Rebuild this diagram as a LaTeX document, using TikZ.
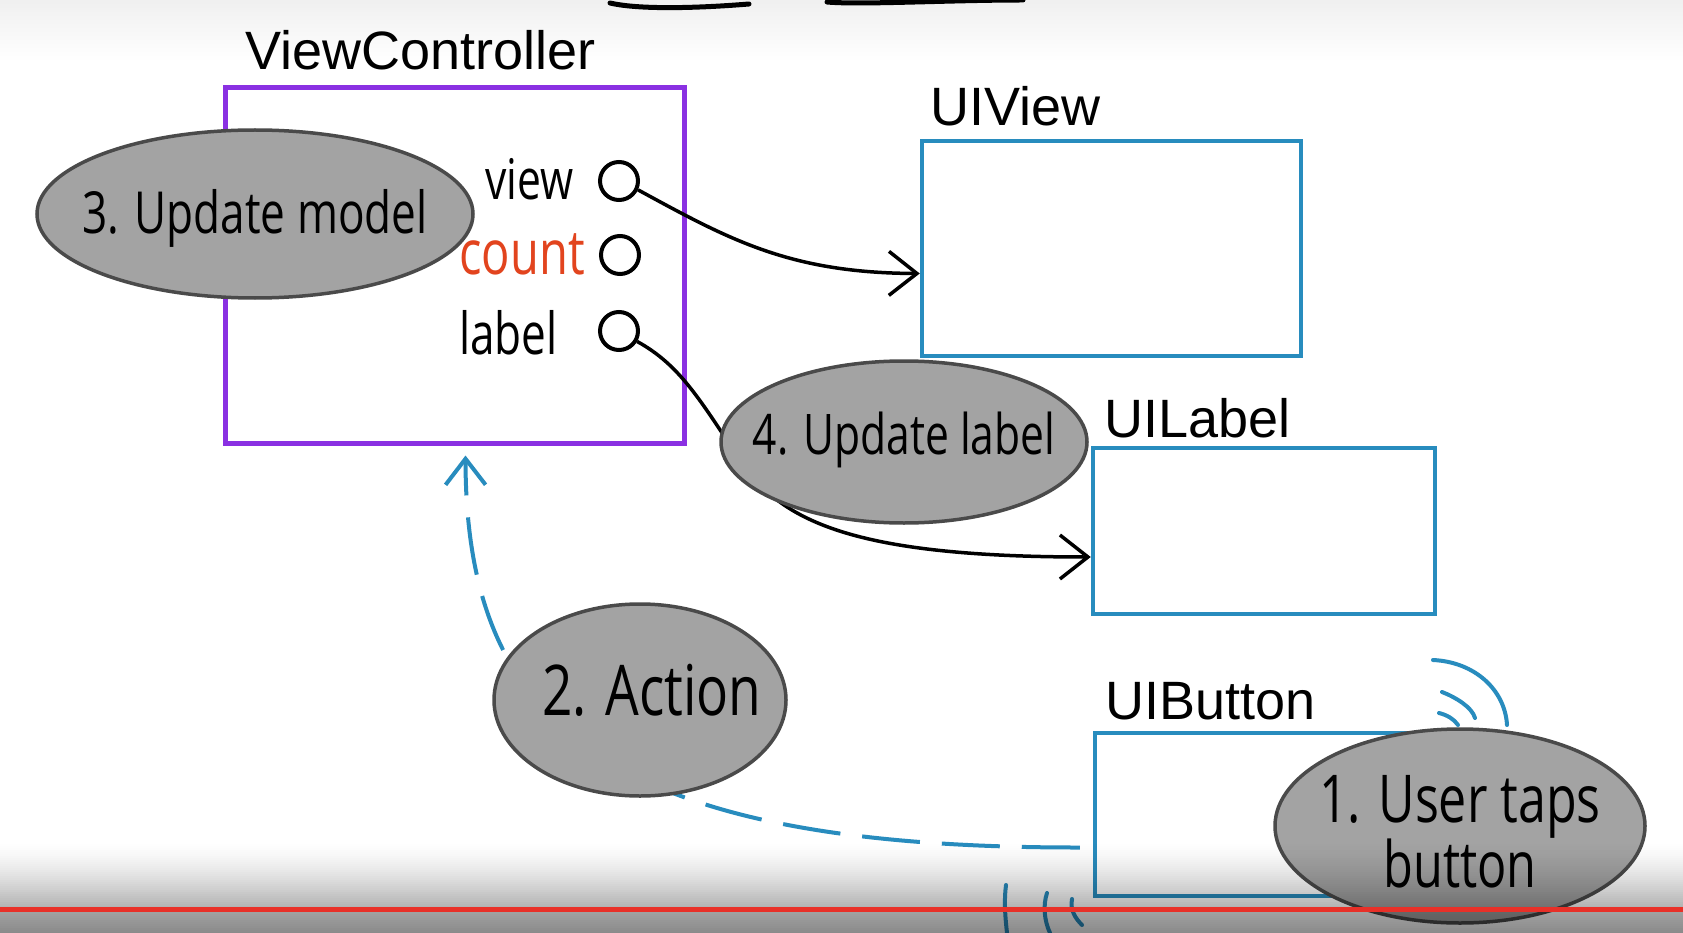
\documentclass[tikz,border=0pt]{standalone}
\usepackage{fontspec}
\setmainfont{Liberation Sans}
\newfontfamily\hwfont{Open Sans}
\usetikzlibrary{shapes.geometric,arrows.meta,calc}
\definecolor{vcpurple}{RGB}{138,48,226}
\definecolor{uiblue}{RGB}{40,140,190}
\definecolor{hwred}{RGB}{226,68,30}
\definecolor{ovalgray}{RGB}{163,163,163}
\definecolor{ovaledge}{RGB}{74,74,74}
\definecolor{ytred}{RGB}{232,48,40}
\newcommand\hw[2]{\scalebox{0.76}[1]{\hwfont\fontsize{#1}{#1}\selectfont #2}}
\begin{document}
\begin{tikzpicture}[x=1pt,y=-1pt,
  vcbox/.style={draw=vcpurple, line width=5pt, inner sep=0pt},
  uibox/.style={draw=uiblue, line width=4.5pt, inner sep=0pt},
  title/.style={anchor=base west, inner sep=0pt, font=\fontsize{54}{60}\selectfont},
  outlet/.style={circle, draw=black, line width=4pt, minimum size=38pt, inner sep=0pt},
  oval/.style={ellipse, fill=ovalgray, draw=ovaledge, line width=3.5pt, inner sep=0pt},
  hwlabel/.style={anchor=base east, inner sep=0pt},
  wire/.style={line width=3.5pt, -{Straight Barb[length=28pt,width=44pt]}},
  actionwire/.style={draw=uiblue, line width=4pt, dash pattern=on 58pt off 22pt,
     -{Straight Barb[length=26pt,width=40pt]}},
  tap/.style={draw=uiblue, line width=4pt, line cap=round},
  scribble/.style={draw=black, line width=5pt, line cap=round}]
\useasboundingbox (0,0) rectangle (1683,933);
\fill[white] (0,0) rectangle (1683,933);
% top fade
\foreach \i in {0,...,29}{
  \fill[black, opacity={0.06*(1-\i/30)}] (0,{2*\i}) rectangle (1683,{2*\i+2});
}
% partial strokes at the top
\draw[scribble] (610,3) .. controls (640,10) and (700,8) .. (749,4);
\draw[scribble] (827,2) .. controls (860,5) and (950,0) .. (1023,0);

% boxes
\node[vcbox, minimum width=459pt, minimum height=355pt] (vc) at (454.5,265.5) {};
\node[uibox, minimum width=379pt, minimum height=215pt] (uiview) at (1111.5,248.5) {};
\node[uibox, minimum width=342pt, minimum height=166pt] (uilabel) at (1264,531) {};
\node[uibox, minimum width=340pt, minimum height=163pt] (uibutton) at (1265,814.5) {};

% titles
\node[title] (tvc) at (245,70) {ViewController};
\node[title] (tview) at (930,126) {UIView};
\node[title] (tlabel) at (1104,437) {UILabel};
\node[title] (tbutton) at (1105,719) {UIButton};

% outlets
\node[outlet] (oview) at (619,181) {};
\node[outlet] (ocount) at (620,255) {};
\node[outlet] (olabel) at (619,331) {};
\node[hwlabel] (lview) at (574,200) {\hw{56}{view}};
\node[hwlabel, text=hwred] (lcount) at (585,274) {\hw{62}{count}};
\node[hwlabel] (llabel) at (558,354) {\hw{58}{label}};

% connections
\draw[wire] (oview.-25) .. controls (730,240) and (790,273) .. ($(uiview.west)+(0,25)$);
\draw[wire] (olabel.-30) .. controls (680,365) and (700,400) .. (740,460)
   .. controls (780,520) and (850,557) .. ($(uilabel.west)+(0,26)$);
\draw[actionwire] ($(uibutton.west)+(-13,33)$) .. controls (600,848) and (466,720) .. ($(vc.south)+(11,10)$);

% tap marks
\draw[tap] (1433,660) .. controls (1475,662) and (1505,690) .. (1507,725);
\draw[tap] (1442,692) .. controls (1455,697) and (1472,707) .. (1475,718);
\draw[tap] (1439,713) .. controls (1447,715) and (1454,719) .. (1458,725);
\draw[tap] (1006,885) .. controls (1004,900) and (1005,915) .. (1007,933);
\draw[tap] (1047,893) .. controls (1043,905) and (1044,920) .. (1050,933);
\draw[tap] (1072,899) .. controls (1070,910) and (1075,918) .. (1082,925);

% step ovals
\node[oval, minimum width=436pt, minimum height=168pt,
  label={[inner sep=0pt, yshift=-4pt]center:\hw{58}{3. Update model}}] (e3) at (255,214) {};
\node[oval, minimum width=366pt, minimum height=162pt,
  label={[inner sep=0pt, yshift=2pt]center:\hw{56}{4. Update label}}] (e4) at (904,442) {};
\node[oval, minimum width=292pt, minimum height=192pt,
  label={[inner sep=0pt, xshift=12pt, yshift=10pt]center:\hw{70}{2. Action}}] (e2) at (640,700) {};
\node[oval, minimum width=370pt, minimum height=194pt,
  label={[inner sep=0pt, align=center, font=\fontsize{64}{46}\selectfont, yshift=-6pt]center:\hw{66}{1. User taps}\\\hw{64}{button}}] (e1) at (1460,826) {};

% video player overlay
\foreach \i in {0,...,33}{
  \fill[black, opacity={0.30*(\i/33)^1.5}] (0,{840+2*\i}) rectangle (1683,{842+2*\i});
}
\fill[ytred] (0,907) rectangle (1683,912);
\foreach \i in {0,...,10}{
  \fill[black, opacity={0.37+0.09*\i/10}] (0,{912+2*\i}) rectangle (1683,{914+2*\i});
}
\end{tikzpicture}
\end{document}
